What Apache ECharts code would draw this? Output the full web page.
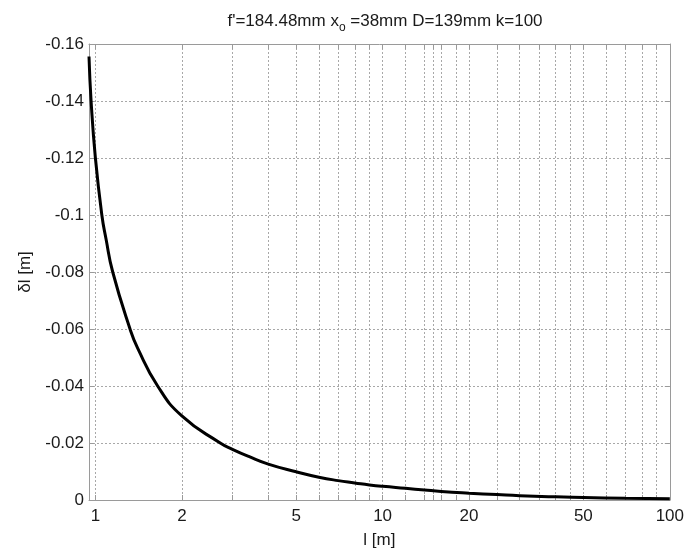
<!DOCTYPE html>
<html><head><meta charset="utf-8">
<script src="https://cdn.jsdelivr.net/npm/echarts@6/dist/echarts.min.js"></script>
<style>html,body{margin:0;padding:0;background:#fff}#c{width:687px;height:554px}</style>
</head><body><div id="c"></div>
<script>
// distance l [m]
const distances = [0.95, 0.966, 1.0, 1.053, 1.089, 1.149, 1.32, 1.403, 1.647, 2.0, 2.72, 3.0, 3.434, 4, 5, 6, 7, 8, 9, 10, 12, 14, 16, 20, 25, 30, 40, 50, 70, 100];
// error δl [m]
const errors = [-0.1556, -0.14, -0.12, -0.10, -0.0916, -0.08, -0.06, -0.0533, -0.04, -0.0295, -0.02, -0.0178, -0.0152, -0.0126, -0.0099, -0.0080, -0.0068, -0.0060, -0.0053, -0.0048, -0.0041, -0.0035, -0.0030, -0.0024, -0.0019, -0.0015, -0.0011, -0.0009, -0.0006, -0.0004];
const xGridValues = [1, 2, 3, 4, 5, 6, 7, 8, 9, 10, 12, 14, 15, 16, 18, 20, 25, 30, 35, 40, 45, 50, 60, 70, 80, 90, 100];
const xLabelValues = [1, 2, 5, 10, 20, 50, 100];
const yMin = -0.16, yMax = 0, yStep = 0.02;
const titleText = "f'=184.48mm x{sub|o} =38mm D=139mm k=100";
const xName = 'l [m]';
const yName = 'δl [m]';

const FONT = 'Liberation Sans';
const axisColor = '#9a9a9a';
const gridStyle = { color: '#a8a8a8', type: [2, 2], width: 1 };
const textColor = '#1a1a1a';

const chart = echarts.init(document.getElementById('c'), null, { renderer: 'canvas' });
const pts = distances.map((d, i) => [d, errors[i]]);

chart.setOption({
  animation: false,
  backgroundColor: '#fff',
  title: {
    text: titleText,
    left: 380,
    top: 3,
    textAlign: 'center',
    textStyle: {
      fontFamily: FONT, fontSize: 17, fontWeight: 'normal', color: textColor,
      rich: { sub: { fontFamily: FONT, fontSize: 12, color: textColor, padding: [14, 0, 0, 0] } }
    }
  },
  grid: { left: 89, right: 16, top: 44, bottom: 51, containLabel: false },
  xAxis: [
    {
      type: 'log', logBase: 10, min: 0.95, max: 100, position: 'bottom',
      axisLine: { show: true, onZero: false, lineStyle: { color: axisColor, width: 1 } },
      axisTick: { show: true, inside: true, length: 5, customValues: xGridValues, lineStyle: { color: axisColor } },
      axisLabel: { customValues: xLabelValues, color: textColor, fontFamily: FONT, fontSize: 17, margin: 8,
        formatter: v => String(Math.round(v)) },
      splitLine: { show: true, lineStyle: gridStyle },
      name: xName, nameLocation: 'middle', nameGap: 32,
      nameTextStyle: { fontFamily: FONT, fontSize: 17, color: textColor }
    },
    {
      type: 'log', logBase: 10, min: 0.95, max: 100, position: 'top',
      axisLine: { show: true, onZero: false, lineStyle: { color: axisColor, width: 1 } },
      axisTick: { show: true, inside: true, length: 5, customValues: xGridValues, lineStyle: { color: axisColor } },
      axisLabel: { show: false },
      splitLine: { show: false }
    }
  ],
  yAxis: [
    {
      type: 'value', min: yMin, max: yMax, interval: yStep, inverse: true, position: 'left',
      axisLine: { show: true, onZero: false, lineStyle: { color: axisColor, width: 1 } },
      axisTick: { show: true, inside: true, length: 5, lineStyle: { color: axisColor } },
      axisLabel: { color: textColor, fontFamily: FONT, fontSize: 17, margin: 5,
        formatter: v => (Math.abs(v) < 1e-9 ? '0' : String(+v.toFixed(2))) },
      splitLine: { show: true, lineStyle: gridStyle },
      name: yName, nameLocation: 'middle', nameGap: 55, nameRotate: 90,
      nameTextStyle: { fontFamily: FONT, fontSize: 17, color: textColor }
    },
    {
      type: 'value', min: yMin, max: yMax, interval: yStep, inverse: true, position: 'right',
      axisLine: { show: true, onZero: false, lineStyle: { color: axisColor, width: 1 } },
      axisTick: { show: true, inside: true, length: 5, lineStyle: { color: axisColor } },
      axisLabel: { show: false },
      splitLine: { show: false }
    }
  ],
  series: [{
    type: 'line', xAxisIndex: 0, yAxisIndex: 0, data: pts,
    symbol: 'none', smooth: 0.5,
    lineStyle: { color: '#000', width: 3 },
    z: 5
  }]
});
</script>
</body></html>
